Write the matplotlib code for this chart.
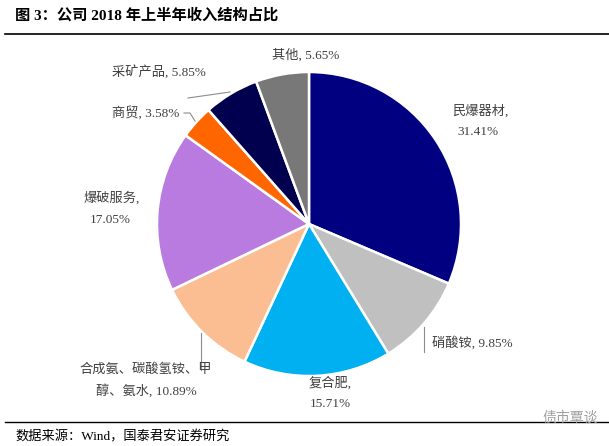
import matplotlib
matplotlib.use("Agg")
import matplotlib.pyplot as plt

categories = ["民爆器材", "硝酸铵", "复合肥", "合成氨、碳酸氢铵、甲醇、氨水", "爆破服务", "商贸", "采矿产品", "其他"]
values = [31.41, 9.85, 15.71, 10.89, 17.05, 3.58, 5.85, 5.65]
colors = ["#000080", "#C0C0C0", "#00B0F0", "#FBBE92", "#B97BE0", "#FF6600", "#00004E", "#787878"]

title = "图 3：公司 2018 年上半年收入结构占比"
source = "数据来源：Wind，国泰君安证券研究"

W, H = 609, 446
fig = plt.figure(figsize=(W / 100, H / 100), dpi=100)
ax = fig.add_axes([0, 0, 1, 1])

FAM = ["Liberation Serif", "Noto Sans CJK SC"]

def Y(y):
    return H - y

ax.pie(values, colors=colors, startangle=90, counterclock=False,
       center=(309, Y(224)), radius=152,
       wedgeprops=dict(edgecolor="white", linewidth=1.8))
ax.set_xlim(0, W)
ax.set_ylim(0, H)
ax.set_aspect("equal")
ax.axis("off")

tc = "#404040"
fs = 9.5
def label(x, y, s, ha="center"):
    ax.text(x, Y(y), s, ha=ha, va="center", fontsize=fs, color=tc, family=FAM)

pct = [f"{v:.2f}%" for v in values]

label(480, 111, categories[0] + ",")
label(478, 132, pct[0])
label(432, 343, f"{categories[1]}, {pct[1]}", ha="left")
label(330, 383, categories[2] + ",")
label(330, 404, pct[2])
label(146, 370, "合成氨、碳酸氢铵、甲")
label(146, 391, f"醇、氨水, {pct[3]}")
label(112, 198, categories[4] + ",")
label(110, 220, pct[4])
label(112, 113, f"{categories[5]}, {pct[5]}", ha="left")
label(112, 73, f"{categories[6]}, {pct[6]}", ha="left")
label(272, 55, f"{categories[7]}, {pct[7]}", ha="left")

lc = "#8C8C8C"
def seg(pts):
    ax.plot([p[0] for p in pts], [Y(p[1]) for p in pts], color=lc, lw=0.8)
seg([(424, 327), (424, 352)])
seg([(201, 333), (201, 370)])
seg([(184, 113), (190, 113), (195, 121)])
seg([(188, 98), (230, 92)])

# title and rules
fig.text(15 / W, 1 - 15 / H, title, ha="left", va="center", fontsize=11,
         fontweight="bold", color="black", family=FAM)
ax.plot([5, W], [Y(34), Y(34)], color="black", lw=1.2)
ax.plot([5, W], [Y(422), Y(422)], color="black", lw=1.0)
fig.text(15 / W, 1 - 437 / H, source, ha="left", va="center", fontsize=9.5,
         color="black", family=FAM)
fig.text(598 / W, 1 - 418 / H, "债市覃谈", ha="right", va="center", fontsize=10,
         color="#A0A0A0", family=FAM)

fig.savefig("out.png", dpi=100)
